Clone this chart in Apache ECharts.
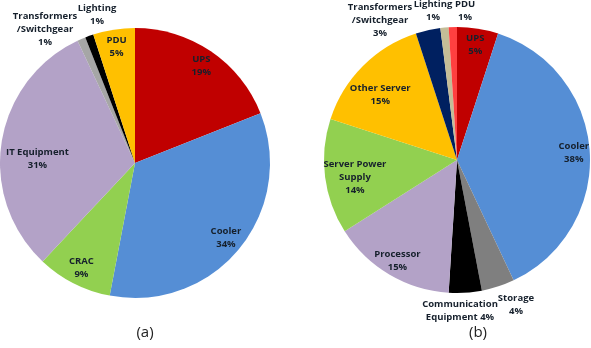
<!DOCTYPE html>
<html>
<head>
<meta charset="utf-8">
<script src="https://cdn.jsdelivr.net/npm/echarts@6/dist/echarts.min.js"></script>
<style>
  html, body { margin: 0; padding: 0; background: #fff; }
  #chart { width: 591px; height: 348px; }
</style>
</head>
<body>
<div id="chart"></div>
<script>
// (a) 数据中心各部分能耗占比
const namesA = ["UPS", "Cooler", "CRAC", "IT Equipment", "Transformers\n/Switchgear", "Lighting", "PDU"]
const valuesA = [19, 34, 9, 31, 1, 1, 5]
const colorsA = ["#c00000", "#558ed5", "#92d050", "#b3a2c7", "#a6a6a6", "#000000", "#ffc000"]

// (b)
const namesB = ["UPS", "Cooler", "Storage", "Communication\nEquipment", "Processor", "Server Power\nSupply", "Other Server", "Transformers\n/Switchgear", "Lighting", "PDU"]
const valuesB = [5, 38, 4, 4, 15, 14, 15, 3, 1, 1]
const colorsB = ["#c00000", "#558ed5", "#7f7f7f", "#000000", "#b3a2c7", "#92d050", "#ffc000", "#002060", "#c4bd97", "#ff4040"]

const subTitles = ["(a)", "(b)"]

let myChart = echarts.init(document.getElementById("chart"))

function pieData(names, values, colors) {
  return names.map((n, i) => ({ name: n, value: values[i], itemStyle: { color: colors[i] } }))
}

const labelFont = {
  fontFamily: "Open Sans",
  fontWeight: "bold",
  fontSize: 9.5,
  lineHeight: 13,
  color: "#16202c",
  align: "center"
}

function fmt(p) {
  if (p.name.indexOf("Communication") === 0) return p.name + " " + p.value + "%"
  return p.name + "\n" + p.value + "%"
}

// 外部标签位置 (像素)
const outerA = { 4: [45, 29], 5: [97, 15] }
const outerB = { 2: [516, 305], 3: [460, 311], 7: [380, 20], 8: [433, 11], 9: [465, 11] }
// 内部标签微调
const nudgeA = { 3: [19, 14] }
const nudgeB = { 5: [14, 3], 6: [6, 18] }

function layoutFn(outer, nudge) {
  return function (p) {
    if (outer[p.dataIndex]) {
      return { x: outer[p.dataIndex][0], y: outer[p.dataIndex][1], align: "center", verticalAlign: "middle" }
    }
    if (nudge[p.dataIndex]) {
      return { dx: nudge[p.dataIndex][0], dy: nudge[p.dataIndex][1] }
    }
    return {}
  }
}

myChart.setOption({
  animation: false,
  title: [
    { text: subTitles[0], left: 140, top: 320, textAlign: "center",
      textStyle: { fontFamily: "Open Sans", fontWeight: "normal", fontSize: 15, color: "#222" } },
    { text: subTitles[1], left: 473, top: 320, textAlign: "center",
      textStyle: { fontFamily: "Open Sans", fontWeight: "normal", fontSize: 15, color: "#222" } }
  ],
  series: [
    {
      type: "pie",
      center: [135, 163],
      radius: 135,
      startAngle: 90,
      label: { show: false },
      labelLine: { show: false },
      data: pieData(namesA, valuesA, colorsA)
    },
    {
      // 标签层
      type: "pie",
      silent: true,
      center: [135, 163],
      radius: [95, 135],
      startAngle: 90,
      itemStyle: { color: "transparent" },
      label: Object.assign({ show: true, position: "inside", formatter: fmt }, labelFont),
      labelLine: { show: false },
      labelLayout: layoutFn(outerA, nudgeA),
      data: namesA.map((n, i) => ({ name: n, value: valuesA[i] }))
    },
    {
      type: "pie",
      center: [457, 160],
      radius: 133,
      startAngle: 90,
      label: { show: false },
      labelLine: { show: false },
      data: pieData(namesB, valuesB, colorsB)
    },
    {
      type: "pie",
      silent: true,
      center: [457, 160],
      radius: [95, 133],
      startAngle: 90,
      itemStyle: { color: "transparent" },
      label: Object.assign({ show: true, position: "inside", formatter: fmt }, labelFont),
      labelLine: { show: false },
      labelLayout: layoutFn(outerB, nudgeB),
      data: namesB.map((n, i) => ({ name: n, value: valuesB[i] }))
    }
  ]
})
</script>
</body>
</html>
